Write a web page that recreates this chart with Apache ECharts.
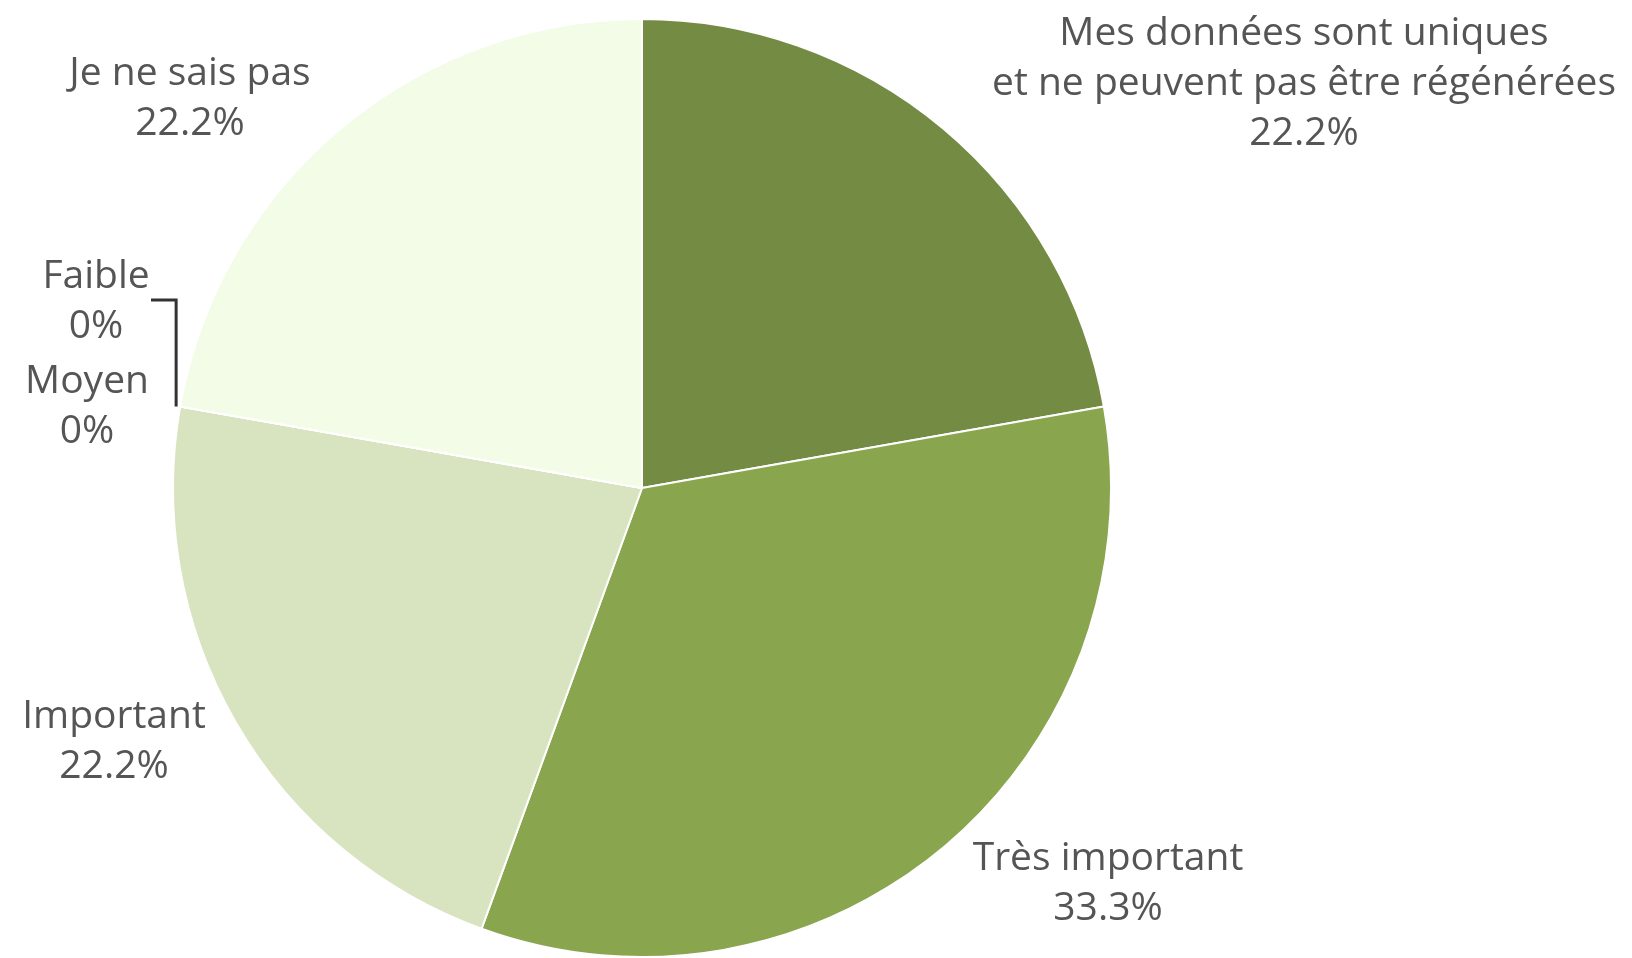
<!DOCTYPE html>
<html>
<head>
<meta charset="utf-8">
<script src="https://cdn.jsdelivr.net/npm/echarts@6/dist/echarts.min.js"></script>
<style>
html,body{margin:0;padding:0;background:#fff;}
#c{width:1632px;height:958px;}
</style>
</head>
<body>
<div id="c"></div>
<script>
const categories = [
  "Mes données sont uniques\net ne peuvent pas être régénérées",
  "Très important",
  "Important",
  "Moyen",
  "Faible",
  "Je ne sais pas"
];
const counts = [2, 3, 2, 0, 0, 2];
const colors = ["#738b42", "#89a54e", "#d8e3bf", "#c8d8a8", "#b8cc90", "#f2fce6"];

// label placement (label centres), separate from data
const labelCenters = [[1304, 84], [1108, 884], [114, 742], [87, 407], [96, 302], [190, 99]];
const pieCenter = [642, 488];
const pieRadius = 469;

const total = counts.reduce((a, b) => a + b, 0);
const data = categories.map((c, i) => ({
  name: c,
  value: counts[i],
  itemStyle: { color: colors[i] },
  labelLine: { show: i === 4, lineStyle: { color: '#333', width: 3 } }
}));

// start point of the zero-slice label line, on the pie rim at the zero slices' angle
function rimPoint(idx) {
  let before = 0;
  for (let k = 0; k < idx; k++) before += counts[k];
  const a = before / total * 2 * Math.PI; // clockwise from top
  return [pieCenter[0] + pieRadius * Math.sin(a), pieCenter[1] - pieRadius * Math.cos(a)];
}

const chart = echarts.init(document.getElementById('c'));
chart.setOption({
  animation: false,
  series: [{
    type: 'pie',
    center: pieCenter,
    radius: pieRadius,
    startAngle: 90,
    clockwise: true,
    avoidLabelOverlap: false,
    data: data,
    itemStyle: { borderColor: '#fff', borderWidth: 2 },
    label: {
      show: true,
      position: 'outside',
      fontFamily: 'Open Sans',
      fontSize: 39,
      lineHeight: 50,
      color: '#555555',
      formatter: p => p.name + '\n' + String(Math.round(p.value / total * 1000) / 10) + '%'
    },
    labelLine: { show: false },
    labelLayout: function (params) {
      const i = params.dataIndex;
      const res = { x: labelCenters[i][0], y: labelCenters[i][1], align: 'center', verticalAlign: 'middle' };
      if (i === 4) {
        const s = rimPoint(4);
        const lx = s[0] - 4;
        res.labelLinePoints = [[lx, s[1]], [lx, 300], [151, 300]];
      }
      return res;
    }
  }]
});
</script>
</body>
</html>
